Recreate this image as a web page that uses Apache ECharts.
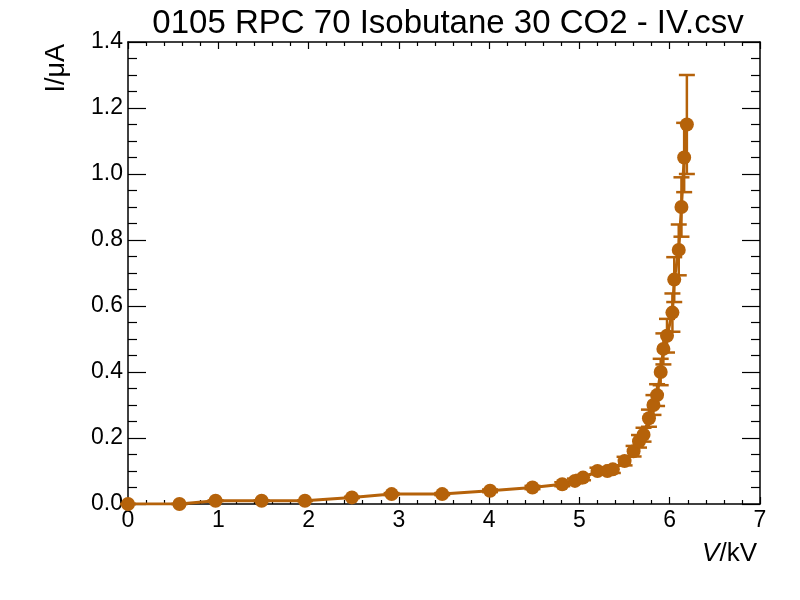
<!DOCTYPE html>
<html>
<head>
<meta charset="utf-8">
<script src="https://cdn.jsdelivr.net/npm/echarts@6/dist/echarts.min.js"></script>
<style>html,body{margin:0;padding:0;background:#fff}#c{width:800px;height:600px}</style>
</head>
<body>
<div id="c"></div>
<script>
const voltage = [0, 0.57, 0.97, 1.48, 1.96, 2.48, 2.92, 3.48, 4.01, 4.48, 4.81, 4.95, 5.04, 5.2, 5.31, 5.37, 5.5, 5.6, 5.66, 5.71, 5.77, 5.82, 5.86, 5.9, 5.93, 5.97, 6.03, 6.05, 6.1, 6.13, 6.16, 6.19];
const current = [0, 0, 0.01, 0.01, 0.01, 0.02, 0.03, 0.03, 0.04, 0.05, 0.06, 0.07, 0.08, 0.10, 0.10, 0.105, 0.13, 0.16, 0.19, 0.21, 0.26, 0.30, 0.33, 0.40, 0.47, 0.51, 0.58, 0.68, 0.77, 0.90, 1.05, 1.15];
const currentErr = [0, 0, 0.001, 0.001, 0.001, 0.002, 0.003, 0.003, 0.004, 0.005, 0.006, 0.007, 0.008, 0.010, 0.010, 0.011, 0.013, 0.016, 0.019, 0.021, 0.026, 0.030, 0.033, 0.040, 0.047, 0.051, 0.058, 0.068, 0.077, 0.090, 0.105, 0.150];
const titleText = '0105 RPC 70 Isobutane 30 CO2 - IV.csv';

const COLOR = '#b5620a';
const FONT = 'Liberation Sans, Arial, sans-serif';

const lineData = voltage.map((v, i) => [v, current[i]]);
const errData = voltage.map((v, i) => [v, current[i] - currentErr[i], current[i] + currentErr[i]]);

function axisCommon(tickLen, minorLen, split) {
  return {
    axisLine: { show: true, onZero: false, lineStyle: { color: '#000', width: 1.5 } },
    axisTick: { show: true, inside: true, length: tickLen, lineStyle: { color: '#000', width: 1.2 } },
    minorTick: { show: true, splitNumber: split, length: minorLen, lineStyle: { color: '#000', width: 1.2 } },
    splitLine: { show: false },
    minorSplitLine: { show: false }
  };
}

const chart = echarts.init(document.getElementById('c'));
chart.setOption({
  animation: false,
  backgroundColor: '#fff',
  title: {
    text: titleText, left: 443, top: 2, textAlign: 'center',
    textStyle: { fontFamily: FONT, fontSize: 33, fontWeight: 'normal', color: '#000' }
  },
  grid: { left: 128, right: 40, top: 42, bottom: 96 },
  xAxis: [
    Object.assign({
      type: 'value', position: 'bottom', min: 0, max: 7, interval: 1,
      axisLabel: { show: true, margin: 5, fontFamily: FONT, fontSize: 23, color: '#000' }
    }, axisCommon(7, 4, 5)),
    Object.assign({
      type: 'value', position: 'top', min: 0, max: 7, interval: 1,
      axisLabel: { show: false }
    }, axisCommon(7, 4, 5))
  ],
  yAxis: [
    Object.assign({
      type: 'value', position: 'left', min: 0, max: 1.4, interval: 0.2,
      axisLabel: { show: true, margin: 5, fontFamily: FONT, fontSize: 23, color: '#000', formatter: v => v.toFixed(1) }
    }, axisCommon(18, 9, 4)),
    Object.assign({
      type: 'value', position: 'right', min: 0, max: 1.4, interval: 0.2,
      axisLabel: { show: false }
    }, axisCommon(18, 9, 4))
  ],
  graphic: [
    {
      type: 'text', x: 757, y: 567,
      style: {
        text: '{i|V}/kV', align: 'right', verticalAlign: 'bottom',
        font: '26px ' + FONT, fill: '#000',
        rich: { i: { fontStyle: 'italic', fontFamily: FONT, fontSize: 26 } }
      }
    },
    {
      type: 'text', x: 57, y: 44, rotation: Math.PI / 2,
      style: {
        text: 'I/μA', align: 'right', verticalAlign: 'middle',
        font: '27px ' + FONT, fill: '#000'
      }
    }
  ],
  series: [
    {
      type: 'custom',
      xAxisIndex: 0, yAxisIndex: 0,
      data: errData,
      z: 2,
      renderItem: function (params, api) {
        const x = api.value(0);
        const lo = api.coord([x, api.value(1)]);
        const hi = api.coord([x, api.value(2)]);
        const hw = 8;
        const st = { stroke: COLOR, lineWidth: 2.5 };
        return {
          type: 'group',
          children: [
            { type: 'line', shape: { x1: lo[0], y1: lo[1], x2: hi[0], y2: hi[1] }, style: st },
            { type: 'line', shape: { x1: lo[0] - hw, y1: lo[1], x2: lo[0] + hw, y2: lo[1] }, style: st },
            { type: 'line', shape: { x1: hi[0] - hw, y1: hi[1], x2: hi[0] + hw, y2: hi[1] }, style: st }
          ]
        };
      }
    },
    {
      type: 'line',
      xAxisIndex: 0, yAxisIndex: 0,
      data: lineData,
      z: 3,
      symbol: 'circle', symbolSize: 14,
      showAllSymbol: true,
      lineStyle: { color: COLOR, width: 3 },
      itemStyle: { color: COLOR }
    }
  ]
});
</script>
</body>
</html>
